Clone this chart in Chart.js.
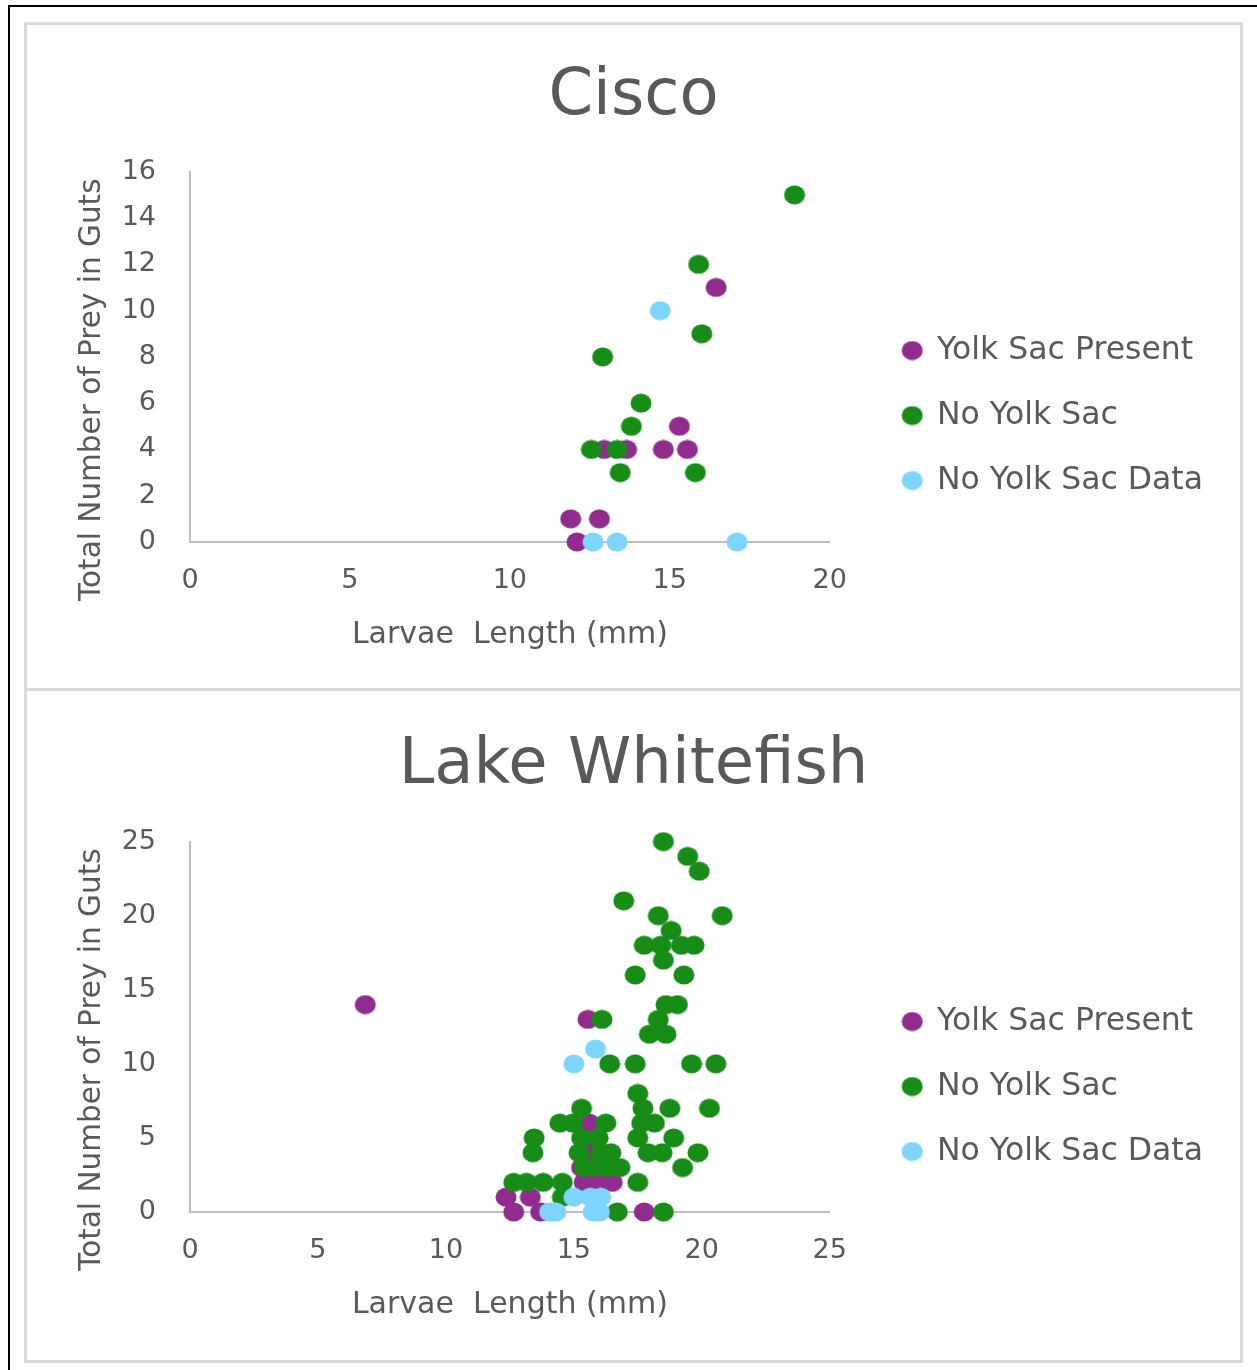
<!DOCTYPE html>
<html>
<head>
<meta charset="utf-8">
<script src="https://cdn.jsdelivr.net/npm/chart.js@4.4.1/dist/chart.umd.min.js"></script>
<style>
  body { margin: 0; background: #fff; }
  #frame { position: absolute; left: 8px; top: 5px; width: 1260px; height: 1380px; border-left: 2px solid #000; border-top: 2px solid #000; }
  .panel { position: absolute; left: 24px; width: 1219px; border: 3px solid #d9d9d9; box-sizing: border-box; background: #fff; }
  #p1 { top: 22px; height: 669px; }
  #p2 { top: 688px; height: 675px; }
  canvas { position: absolute; left: 0; top: 0; }
</style>
</head>
<body>
<div id="frame"></div>
<div class="panel" id="p1"><canvas id="cisco" width="1213" height="663"></canvas></div>
<div class="panel" id="p2"><canvas id="whitefish" width="1213" height="669"></canvas></div>
<script>
// series names + colours
var seriesNames = ['Yolk Sac Present', 'No Yolk Sac', 'No Yolk Sac Data'];
var seriesColors = ['#912b8d', '#178d17', '#7dd5fd'];

// Cisco
var ciscoYolkLen  = [16.45, 15.3, 12.95, 13.65, 14.8, 15.55, 11.9, 12.8, 12.1];
var ciscoYolkPrey = [11, 5, 4, 4, 4, 4, 1, 1, 0];
var ciscoNoYolkLen  = [18.9, 15.9, 16.0, 12.9, 14.1, 13.8, 12.55, 13.35, 13.45, 15.8];
var ciscoNoYolkPrey = [15, 12, 9, 8, 6, 5, 4, 4, 3, 3];
var ciscoNoDataLen  = [14.7, 12.6, 13.35, 17.1];
var ciscoNoDataPrey = [10, 0, 0, 0];
var ciscoXTicks = [0, 5, 10, 15, 20];
var ciscoYTicks = [0, 2, 4, 6, 8, 10, 12, 14, 16];

// Lake Whitefish
var wfYolkLen  = [6.85, 15.55, 15.6, 15.6, 15.3, 15.4, 15.95, 16.5, 12.35, 13.3, 12.65, 13.7, 17.75];
var wfYolkPrey = [14, 13, 6, 4, 3, 2, 2, 2, 1, 1, 0, 0, 0];
var wfNoYolkLen = [18.5, 19.45, 19.9, 16.95, 18.3, 20.8, 18.8, 17.75, 18.4, 19.2, 19.7, 18.5,
  17.4, 19.3, 18.6, 19.05, 18.3, 16.1, 17.95, 18.6, 16.4, 17.4, 19.6, 20.55,
  17.5, 15.3, 17.7, 18.75, 20.3, 14.45, 14.95, 16.25, 17.65, 18.15,
  13.45, 15.3, 15.95, 17.5, 18.9, 13.4, 15.2, 16.05, 16.45, 17.9, 18.45, 19.85,
  15.4, 15.8, 16.3, 16.8, 19.25, 12.65, 13.15, 13.8, 14.55, 17.5, 14.55, 16.7, 18.5];
var wfNoYolkPrey = [25, 24, 23, 21, 20, 20, 19, 18, 18, 18, 18, 17,
  16, 16, 14, 14, 13, 13, 12, 12, 10, 10, 10, 10,
  8, 7, 7, 7, 7, 6, 6, 6, 6, 6,
  5, 5, 5, 5, 5, 4, 4, 4, 4, 4, 4, 4,
  3, 3, 3, 3, 3, 2, 2, 2, 2, 2, 1, 0, 0];
var wfNoDataLen  = [15.85, 15.0, 15.0, 15.65, 16.05, 14.05, 14.3, 15.75, 16.0];
var wfNoDataPrey = [11, 10, 1, 1, 1, 0, 0, 0, 0];
var wfXTicks = [0, 5, 10, 15, 20, 25];
var wfYTicks = [0, 5, 10, 15, 20, 25];

var textColor = '#595959';
var fontFam = "'DejaVu Sans', sans-serif";

function dot(color) {
  var c = document.createElement('canvas');
  c.width = 22; c.height = 20;
  var g = c.getContext('2d');
  g.fillStyle = color;
  g.beginPath();
  g.ellipse(11, 10, 10.5, 9.5, 0, 0, Math.PI * 2);
  g.fill();
  return c;
}

function pts(xs, ys) {
  return xs.map(function (x, i) { return { x: x, y: ys[i] }; });
}

function makeChart(id, title, groups, xTicks, yTicks, lay) {
  // drawn in reverse: no data on top, then no yolk, yolk underneath
  var datasets = [2, 1, 0].map(function (k) {
    return {
      label: seriesNames[k],
      data: pts(groups[k][0], groups[k][1]),
      pointStyle: dot(seriesColors[k]),
      backgroundColor: seriesColors[k],
      borderColor: seriesColors[k],
      pointRadius: 10,
      clip: false,
      xAxisID: 'x',
      yAxisID: 'y'
    };
  });
  return new Chart(document.getElementById(id), {
    type: 'scatter',
    data: { datasets: datasets },
    options: {
      responsive: false,
      animation: false,
      layout: { padding: { left: 27, right: 27 } },
      plugins: {
        tooltip: { enabled: false },
        title: {
          display: true,
          text: title,
          color: textColor,
          font: { family: fontFam, size: 64, weight: 'normal' },
          padding: { top: lay.titleTop, bottom: lay.titleBottom }
        },
        legend: {
          position: 'right',
          reverse: true,
          maxWidth: 420,
          title: { display: true, text: ' ', font: { size: 10 }, padding: { top: lay.legendTitle, bottom: 0 } },
          labels: {
            usePointStyle: true,
            boxWidth: 18,
            padding: 33.5,
            color: textColor,
            font: { family: fontFam, size: 31.5 }
          }
        }
      },
      scales: {
        x: {
          type: 'linear',
          min: xTicks[0],
          max: xTicks[xTicks.length - 1],
          afterBuildTicks: function (s) { s.ticks = xTicks.map(function (v) { return { value: v }; }); },
          afterFit: function (s) { s.height = lay.xHeight; },
          grid: { display: false },
          border: { color: '#bfbfbf', width: 2 },
          ticks: { padding: 15, color: textColor, font: { family: fontFam, size: 27 } },
          title: {
            display: true,
            text: 'Larvae  Length (mm)',
            color: textColor,
            font: { family: fontFam, size: 30 },
            padding: { top: 0, bottom: lay.xTitleBottom }
          }
        },
        y: {
          type: 'linear',
          min: yTicks[0],
          max: yTicks[yTicks.length - 1],
          afterBuildTicks: function (s) { s.ticks = yTicks.map(function (v) { return { value: v }; }); },
          afterFit: function (s) { s.width = 136; },
          grid: { display: false },
          border: { color: '#bfbfbf', width: 2 },
          ticks: { padding: 26, color: textColor, font: { family: fontFam, size: 27 } },
          title: {
            display: true,
            text: 'Total Number of Prey in Guts       ',
            color: textColor,
            font: { family: fontFam, size: 29.5 },
            padding: { top: 21, bottom: 0 }
          }
        },
        gap: {
          type: 'linear',
          position: 'right',
          grid: { display: false },
          border: { display: false },
          ticks: { display: false },
          afterFit: function (s) { s.width = 40; }
        }
      }
    }
  });
}

makeChart('cisco', 'Cisco',
  [[ciscoYolkLen, ciscoYolkPrey], [ciscoNoYolkLen, ciscoNoYolkPrey], [ciscoNoDataLen, ciscoNoDataPrey]],
  ciscoXTicks, ciscoYTicks,
  { titleTop: 33.5, titleBottom: 36.5, xHeight: 146, xTitleBottom: 34.5, legendTitle: 106 });

makeChart('whitefish', 'Lake Whitefish',
  [[wfYolkLen, wfYolkPrey], [wfNoYolkLen, wfNoYolkPrey], [wfNoDataLen, wfNoDataPrey]],
  wfXTicks, wfYTicks,
  { titleTop: 36.5, titleBottom: 37.3, xHeight: 148, xTitleBottom: 37, legendTitle: 110 });
</script>
</body>
</html>
